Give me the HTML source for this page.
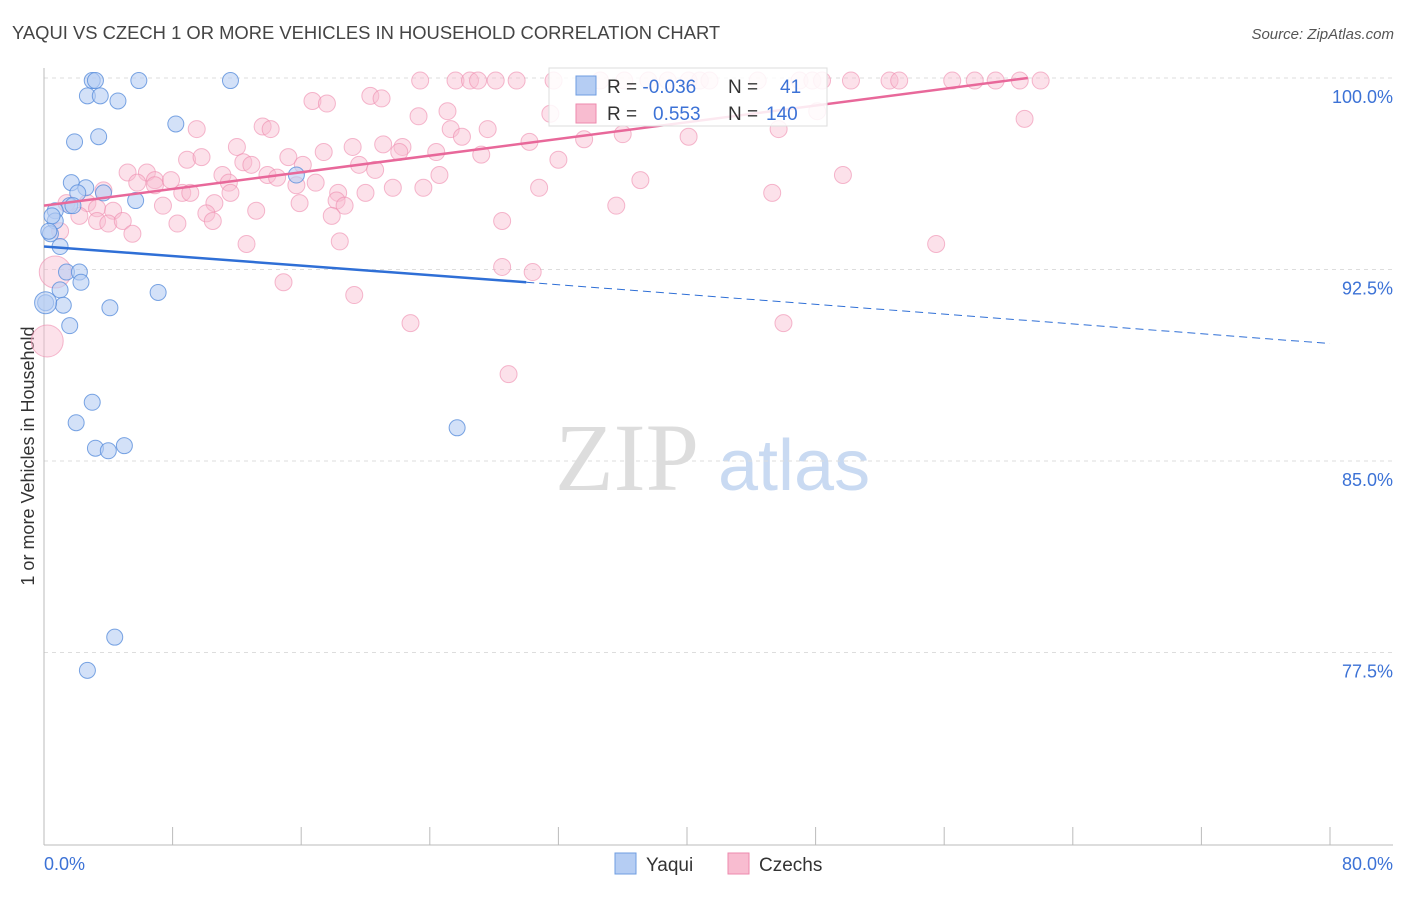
<!DOCTYPE html>
<html><head><meta charset="utf-8"><style>
body{margin:0;background:#fff;font-family:"Liberation Sans",sans-serif}
svg text{font-family:"Liberation Sans",sans-serif}
</style></head><body>
<svg id="c" width="1406" height="892" xmlns="http://www.w3.org/2000/svg">
<text x="12" y="39" font-size="18.4" fill="#444">YAQUI VS CZECH 1 OR MORE VEHICLES IN HOUSEHOLD CORRELATION CHART</text>
<text x="1394" y="39" font-size="15" fill="#555" text-anchor="end" font-style="italic">Source: ZipAtlas.com</text>
<text transform="translate(34,456) rotate(-90)" font-size="18" fill="#333" text-anchor="middle">1 or more Vehicles in Household</text>
<text x="555" y="490" font-size="96" fill="#ddd" font-family="Liberation Serif" style="font-family:'Liberation Serif',serif">ZIP</text>
<text x="718" y="490" font-size="72" fill="#c9daf2">atlas</text>
<g id="grid"></g><g id="pts"></g><g id="trend"></g>
<g>
<rect x="549" y="68" width="278" height="58" fill="#fff" fill-opacity="0.85" stroke="#ddd"/>
<rect x="576" y="76" width="20" height="19" fill="#b5cdf3" stroke="#6f9de0"/>
<rect x="576" y="104" width="20" height="19" fill="#f8bcd0" stroke="#ee8aae"/>
<text x="607" y="93" font-size="19" fill="#333">R = <tspan fill="#3c72d6">-0.036</tspan><tspan x="728">N = </tspan><tspan x="780" fill="#3c72d6">41</tspan></text>
<text x="607" y="120" font-size="19" fill="#333">R = <tspan x="653" fill="#3c72d6">0.553</tspan><tspan x="728">N = </tspan><tspan x="766" fill="#3c72d6">140</tspan></text>
</g>
<g>
<rect x="615" y="853" width="21" height="21" fill="#b5cdf3" stroke="#6f9de0"/>
<text x="646" y="871" font-size="19" fill="#333">Yaqui</text>
<rect x="728" y="853" width="21" height="21" fill="#f8bcd0" stroke="#ee8aae"/>
<text x="759" y="871" font-size="19" fill="#333">Czechs</text>
</g>
</svg>
<script>
const yTicks=[100,92.5,85,77.5];
const yTickLabels=["100.0%","92.5%","85.0%","77.5%"];
const xTicks=[0,8,16,24,32,40,48,56,64,72,80];
const xEndLabels=["0.0%","80.0%"];
const yaquiX=[3.0,3.2,5.9,11.6,2.7,3.5,4.6,8.2,1.9,3.4,1.7,2.6,2.1,3.7,5.7,15.7,1.6,0.7,0.7,0.4,1.0,1.4,2.2,2.3,1.0,7.1,0.1,1.2,4.1,1.6,3.0,2.0,3.2,4.0,5.0,25.7,4.4,2.7,0.5,0.3,1.8];
const yaquiY=[99.9,99.9,99.9,99.9,99.3,99.3,99.1,98.2,97.5,97.7,95.9,95.7,95.5,95.5,95.2,96.2,95.0,94.8,94.4,93.9,93.4,92.4,92.4,92.0,91.7,91.6,91.2,91.1,91.0,90.3,87.3,86.5,85.5,85.4,85.6,86.3,78.1,76.8,94.6,94.0,95.0];
const czX=[23.4,25.6,26.5,27.0,28.1,29.4,31.7,34.6,36.1,37.6,38.8,40.1,40.8,41.4,44.4,47.0,47.8,48.4,50.2,52.6,53.2,56.5,57.9,59.2,60.7,62.0,
16.7,17.6,20.3,21.0,23.3,25.1,31.5,33.8,48.1,61.0,9.5,13.6,14.1,25.3,27.6,26.0,36.0,40.1,45.7,12.0,19.2,21.1,22.3,30.2,33.6,17.4,15.2,22.1,24.4,27.2,8.9,9.8,12.4,12.9,16.1,19.6,32.0,5.2,6.4,11.1,13.9,14.5,20.6,24.6,49.7,5.8,6.9,7.9,11.5,15.7,16.9,37.1,3.7,6.9,8.6,9.1,11.6,18.3,20.0,21.7,23.6,30.8,45.3,2.7,3.3,4.3,7.4,10.6,13.2,15.9,18.2,18.7,35.6,1.4,2.2,3.3,4.0,4.9,8.3,10.1,10.5,17.9,28.5,1.0,5.5,18.4,12.6,55.5,28.5,30.4,14.9,19.3,22.8,46.0,28.9];
const czY=[99.9,99.9,99.9,99.9,99.9,99.9,99.9,99.9,99.9,99.9,99.9,99.9,99.9,99.9,99.9,99.9,99.9,99.9,99.9,99.9,99.9,99.9,99.9,99.9,99.9,99.9,
99.1,99.0,99.3,99.2,98.5,98.7,98.6,98.6,98.7,98.4,98.0,98.1,98.0,98.0,98.0,97.7,97.8,97.7,98.0,97.3,97.3,97.4,97.3,97.5,97.6,97.1,96.9,97.1,97.1,97.0,96.8,96.9,96.7,96.6,96.6,96.6,96.8,96.3,96.3,96.2,96.2,96.1,96.4,96.2,96.2,95.9,96.0,96.0,95.9,95.8,95.9,96.0,95.6,95.8,95.5,95.5,95.5,95.5,95.5,95.7,95.7,95.7,95.5,95.1,94.9,94.8,95.0,95.1,94.8,95.1,95.2,95.0,95.0,95.1,94.6,94.4,94.3,94.4,94.3,94.7,94.4,94.6,94.4,94.0,93.9,93.6,93.5,93.5,92.6,92.4,92.0,91.5,90.4,90.4,88.4];
const bigCz=[[0.7,92.4],[0.2,89.7]];
const bigYaqui=[[0.1,91.2]];
const yaquiTrend=[[0,93.4],[30,92.0],[80,89.6]];
const czTrend=[[0,95.0],[61.2,100]];
const X=v=>44+v/80*1286, Y=v=>78+(100-v)/7.5*191.5;
const NS="http://www.w3.org/2000/svg";
function mk(p,t,a){const e=document.createElementNS(NS,t);for(const k in a)e.setAttribute(k,a[k]);p.appendChild(e);return e;}
const g=document.getElementById('grid');
yTicks.forEach((v,i)=>{
 const l=mk(g,'line',{x1:44,x2:1393,y1:Y(v),y2:Y(v),stroke:'#ddd','stroke-dasharray':'4,4'});
 
 
 const t=mk(g,'text',{x:1393,y:Y(v)+25,'font-size':18,fill:'#3c72d6','text-anchor':'end'});t.textContent=yTickLabels[i];
 
 
});
const ax=mk(g,'line',{x1:44,x2:1393,y1:845,y2:845,stroke:'#bbb'});


const ay=mk(g,'line',{x1:44,x2:44,y1:68,y2:845,stroke:'#bbb'});


xTicks.forEach(v=>{const l=mk(g,'line',{x1:X(v),x2:X(v),y1:827,y2:845,stroke:'#bbb'});
 
 });
[[0,'start',44],[80,'end',1393]].forEach((a,i)=>{const t=mk(g,'text',{x:a[2],y:870,'font-size':18,fill:'#3c72d6','text-anchor':a[1]});t.textContent=xEndLabels[i];
 
 });
const P=document.getElementById('pts');
czX.forEach((x,i)=>{const c=mk(P,'circle',{cx:X(x),cy:Y(czY[i]),r:8.5,fill:'#f8bcd0','fill-opacity':0.45,stroke:'#ee8aae','stroke-opacity':0.6});
 
 });
bigCz.forEach(p=>{const c=mk(P,'circle',{cx:X(p[0]),cy:Y(p[1]),r:16,fill:'#f8bcd0','fill-opacity':0.45,stroke:'#ee8aae','stroke-opacity':0.6});
 
 });
yaquiX.forEach((x,i)=>{const c=mk(P,'circle',{cx:X(x),cy:Y(yaquiY[i]),r:8,fill:'#b5cdf3','fill-opacity':0.6,stroke:'#5a8fdc','stroke-opacity':0.8});
 
 });
bigYaqui.forEach(p=>{const c=mk(P,'circle',{cx:X(p[0]),cy:Y(p[1]),r:11,fill:'#b5cdf3','fill-opacity':0.6,stroke:'#5a8fdc','stroke-opacity':0.8});
 
 });
const T=document.getElementById('trend');
let l=mk(T,'line',{x1:X(yaquiTrend[0][0]),y1:Y(yaquiTrend[0][1]),x2:X(yaquiTrend[1][0]),y2:Y(yaquiTrend[1][1]),stroke:'#2f6fd6','stroke-width':2.5});


l=mk(T,'line',{x1:X(yaquiTrend[1][0]),y1:Y(yaquiTrend[1][1]),x2:X(yaquiTrend[2][0]),y2:Y(yaquiTrend[2][1]),stroke:'#2f6fd6','stroke-width':1,'stroke-dasharray':'8,5'});


l=mk(T,'line',{x1:X(czTrend[0][0]),y1:Y(czTrend[0][1]),x2:X(czTrend[1][0]),y2:Y(czTrend[1][1]),stroke:'#e8689a','stroke-width':2.5});


</script>
</body></html>
